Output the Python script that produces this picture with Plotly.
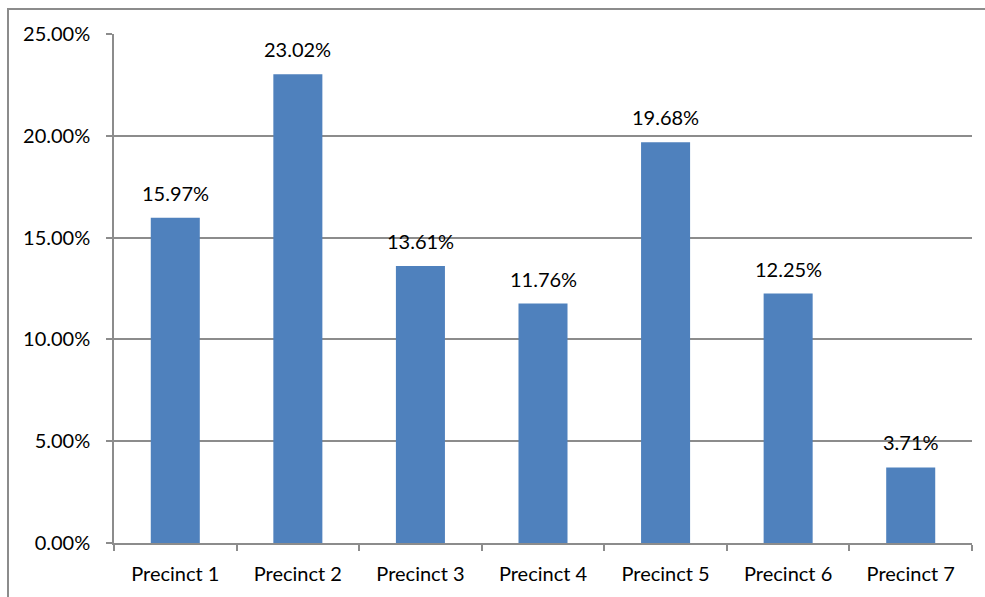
import plotly.graph_objects as go

# Share of total by precinct (percent)
precincts = ["Precinct 1", "Precinct 2", "Precinct 3", "Precinct 4",
             "Precinct 5", "Precinct 6", "Precinct 7"]
shares = [15.97, 23.02, 13.61, 11.76, 19.68, 12.25, 3.71]
y_ticks = [0, 5, 10, 15, 20, 25]
y_tick_labels = ["0.00%", "5.00%", "10.00%", "15.00%", "20.00%", "25.00%"]

W, H = 985, 597
L, R, T, B = 114, 13, 34, 52
pw, ph = W - L - R, H - T - B
FONT = "Lato, sans-serif"

fig = go.Figure(go.Bar(
    x=precincts,
    y=shares,
    marker=dict(color="#4F81BD", line=dict(width=0)),
    cliponaxis=False,
))

# Value labels above each bar
for cat, v in zip(precincts, shares):
    fig.add_annotation(
        x=cat, y=v, xref="x", yref="y",
        text=f"{v:.2f}%", showarrow=False,
        yanchor="bottom", yshift=11,
        font=dict(family=FONT, size=20, color="#000000"),
    )

fig.update_layout(
    width=W, height=H,
    margin=dict(l=L, r=R, t=T, b=B),
    paper_bgcolor="white",
    plot_bgcolor="white",
    bargap=0.6,
    showlegend=False,
    font=dict(family=FONT, size=20, color="#000000"),
)

fig.update_yaxes(
    range=[0, 25],
    tickvals=y_ticks,
    ticktext=y_tick_labels,
    showgrid=True, gridcolor="#8c8c8c", gridwidth=1.5,
    showline=True, linecolor="#8c8c8c", linewidth=1.5,
    ticks="outside", ticklen=6, tickcolor="#8c8c8c", tickwidth=1.5,
    zeroline=False,
    ticklabelstandoff=12,
)

fig.update_xaxes(
    showline=True, linecolor="#8c8c8c", linewidth=1.5,
    ticks="outside", ticklen=6, tickcolor="#8c8c8c", tickwidth=1.5,
    tickson="boundaries",
    showgrid=False,
    ticklabelstandoff=12,
)

# Outer chart frame
fig.add_shape(
    type="rect", xref="paper", yref="paper",
    x0=(8 - L) / pw, x1=(W + 5 - L) / pw,
    y0=-(H + 5 - T - ph) / ph, y1=1 + (T - 9) / ph,
    line=dict(color="#8c8c8c", width=2), fillcolor="rgba(0,0,0,0)",
    layer="below",
)

fig.write_html("out.html")
